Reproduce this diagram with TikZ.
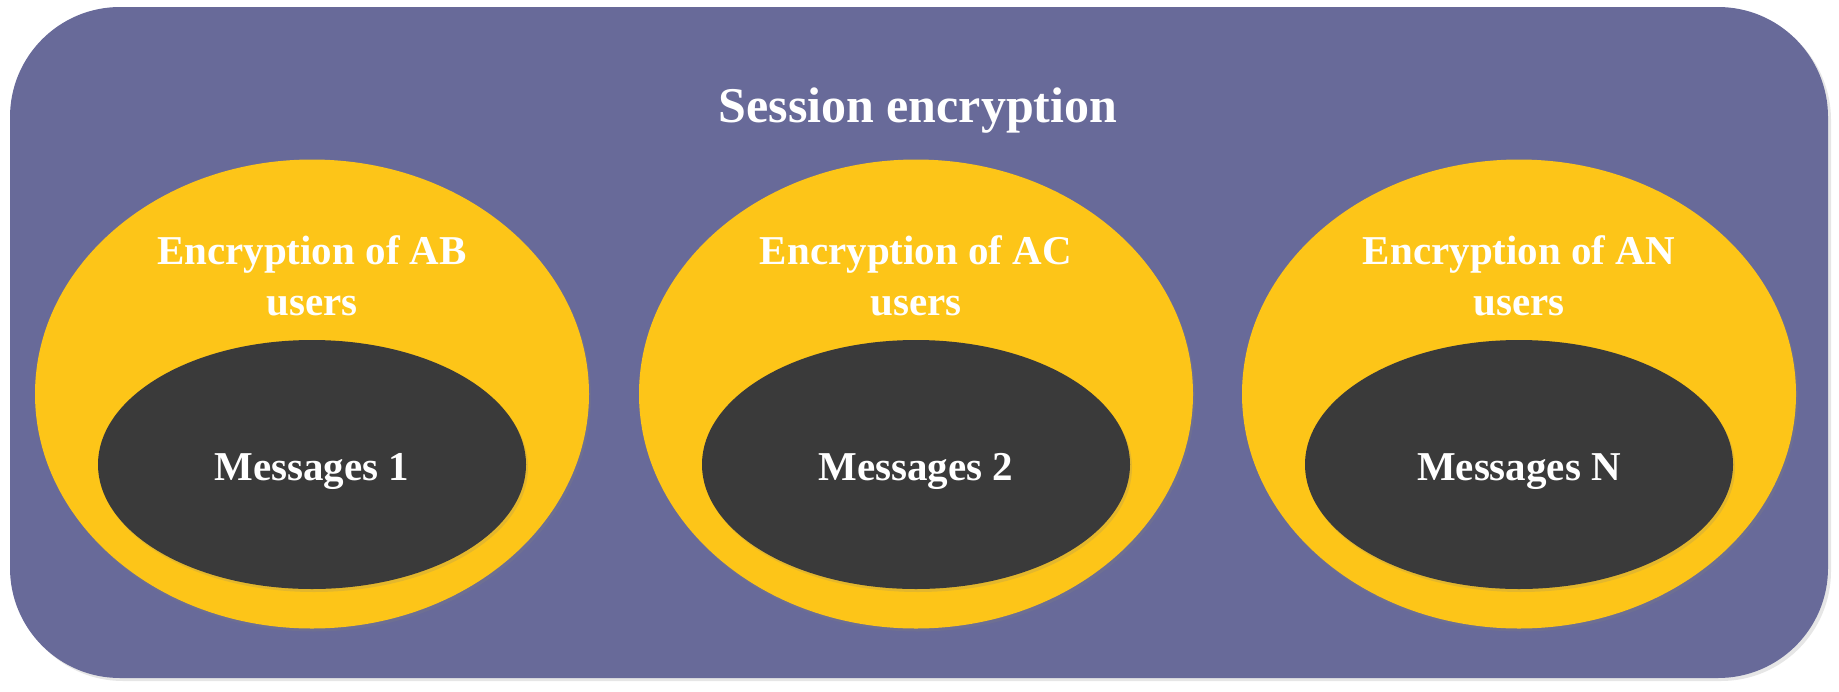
\documentclass[tikz,border=0pt]{standalone}
\usepackage{fontspec}
\setmainfont{Liberation Serif}
\usetikzlibrary{shapes.geometric,shadows}
\definecolor{sessionpurple}{RGB}{104,106,153}
\definecolor{groupyellow}{RGB}{253,197,24}
\definecolor{msgdark}{RGB}{58,58,58}
\begin{document}
\begin{tikzpicture}
[x=1pt,y=-1pt,
  framedecorate/.style={shape=rectangle,rounded corners=110pt,inner sep=0pt,
    fill=sessionpurple,minimum width=1818pt,minimum height=671pt,
    drop shadow={shadow xshift=3pt,shadow yshift=-3pt,opacity=0.2}},
  groupdecorate/.style={shape=ellipse,inner sep=0pt,fill=groupyellow,
    minimum width=554pt,minimum height=469pt,
    drop shadow={shadow xshift=2pt,shadow yshift=-3pt,opacity=0.25}},
  msgdecorate/.style={shape=ellipse,inner sep=0pt,fill=msgdark,
    minimum width=428pt,minimum height=249pt,
    drop shadow={shadow xshift=2pt,shadow yshift=-3pt,opacity=0.2}},
  textdecorate/.style={text=white,anchor=base,inner sep=0pt,align=center,
    font=\bfseries\fontsize{41}{51}\selectfont}]
\useasboundingbox (0,0) rectangle (1839,691);
%% outer frame
\node (session) at (919,342.5) [framedecorate] {};
\node (title) at (918,122) [textdecorate,font=\bfseries\fontsize{50}{60}\selectfont]
  {Session encryption};
%% groups and messages
\foreach \nodename/\x/\pair in {AB/312/1, AC/916/2, AN/1519/N}
{
  \node (\nodename) at (\x,394) [groupdecorate] {};
  \node (\nodename-text) at (\x,315) [textdecorate] {Encryption of \nodename\\users};
  \node (msg\pair) at (\x,464.5) [msgdecorate] {};
  \node (msg\pair-text) at (\x,480) [textdecorate] {Messages \pair};
}
\end{tikzpicture}
\end{document}
